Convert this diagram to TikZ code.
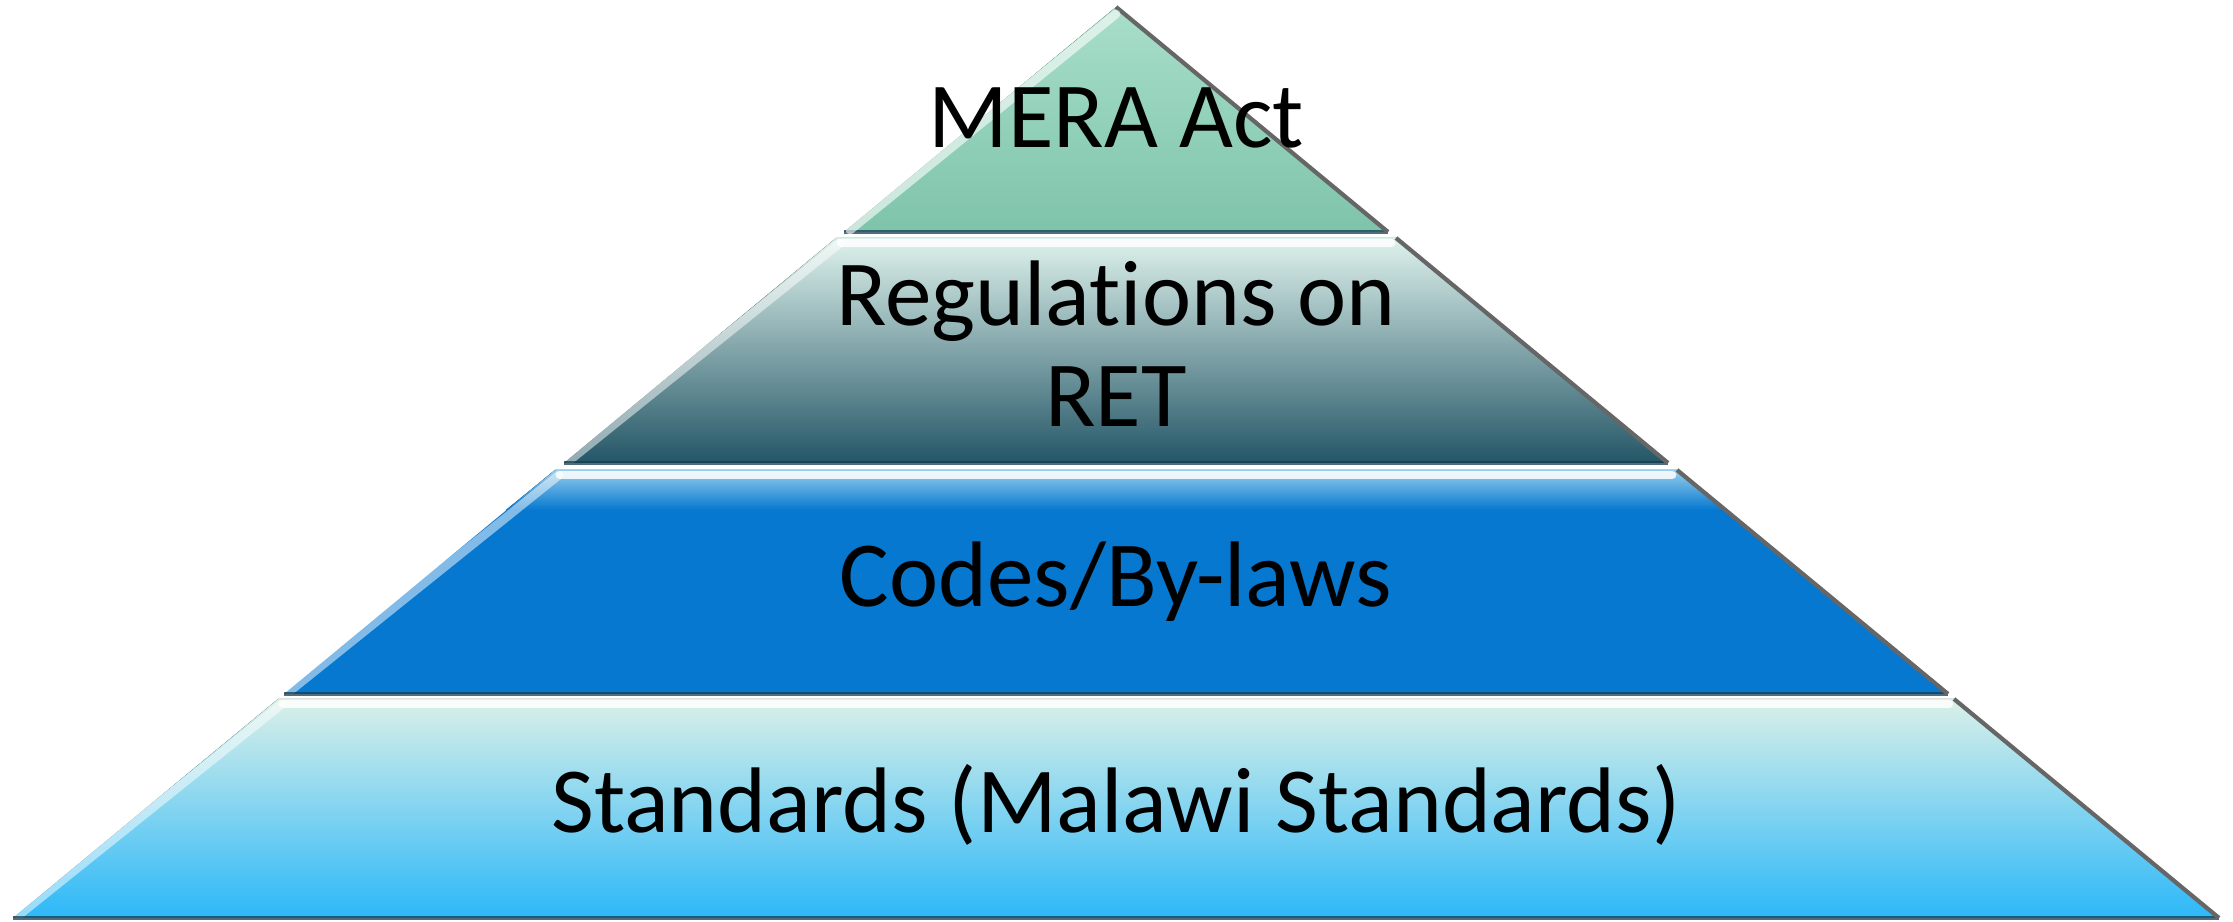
\documentclass[tikz,border=0pt]{standalone}
\usepackage{fontspec}
\setmainfont{Carlito}[Ligatures=NoCommon]

\definecolor{meratop}{RGB}{168,222,202}
\definecolor{merabot}{RGB}{126,196,170}
\definecolor{regtop}{RGB}{222,242,236}
\definecolor{regbot}{RGB}{36,86,102}
\definecolor{codesblue}{RGB}{6,120,208}
\definecolor{codestop}{RGB}{150,205,235}
\definecolor{stdtop}{RGB}{218,240,232}
\definecolor{stdbot}{RGB}{44,184,248}
\definecolor{edgedark}{RGB}{20,60,80}

\tikzset{
    glint/.style={white, line width=2.5pt, opacity=0.85, line cap=round},
    rim/.style={edgedark, line width=1.4pt, opacity=0.75},
    sidegrey/.style={gray!80!black, line width=1.2pt},
    tiertext/.style={font=\fontsize{26.5}{29}\selectfont, align=center, text=black, anchor=base}
}

\begin{document}
\begin{tikzpicture}
    \useasboundingbox (0,0) rectangle (22.33,9.22);

    % tier corners
    \coordinate (apex) at (11.16, 9.15);
    \coordinate (t1l) at (8.44, 6.90);
    \coordinate (t1r) at (13.88, 6.90);
    \coordinate (t2tl) at (8.36, 6.84);
    \coordinate (t2tr) at (13.96, 6.84);
    \coordinate (t2bl) at (5.64, 4.59);
    \coordinate (t2br) at (16.68, 4.59);
    \coordinate (t3tl) at (5.55, 4.52);
    \coordinate (t3tr) at (16.77, 4.52);
    \coordinate (t3bl) at (2.84, 2.28);
    \coordinate (t3br) at (19.48, 2.28);
    \coordinate (t4tl) at (2.78, 2.23);
    \coordinate (t4tr) at (19.54, 2.23);
    \coordinate (t4bl) at (0.13, 0.04);
    \coordinate (t4br) at (22.19, 0.04);

    % MERA Act
    \fill[top color=meratop, bottom color=merabot] (apex) -- (t1r) -- (t1l) -- cycle;
    \draw[rim] (t1l) -- (t1r);
    \draw[sidegrey] (apex) -- (t1r);
    \draw[glint, opacity=0.6] ([shift={(0.06,0.02)}]t1l) -- ([shift={(0,-0.07)}]apex);

    % Regulations on RET
    \fill[top color=regtop, bottom color=regbot] (t2tl) -- (t2tr) -- (t2br) -- (t2bl) -- cycle;
    \draw[glint] ([shift={(0.05,-0.05)}]t2tl) -- ([shift={(-0.05,-0.05)}]t2tr);
    \draw[glint, opacity=0.5] ([shift={(0.06,0.03)}]t2bl) -- ([shift={(0.04,-0.05)}]t2tl);
    \draw[rim] (t2bl) -- (t2br);
    \draw[sidegrey] (t2tr) -- (t2br);

    % Codes/By-laws
    \fill[codesblue] (t3tl) -- (t3tr) -- (t3br) -- (t3bl) -- cycle;
    \fill[top color=codestop, bottom color=codesblue] (t3tl) -- (t3tr) -- ([shift={(0.49,-0.4)}]t3tr) -- ([shift={(-0.49,-0.4)}]t3tl) -- cycle;
    \draw[glint] ([shift={(0.05,-0.05)}]t3tl) -- ([shift={(-0.05,-0.05)}]t3tr);
    \draw[glint, opacity=0.5] ([shift={(0.06,0.03)}]t3bl) -- ([shift={(0.04,-0.05)}]t3tl);
    \draw[rim] (t3bl) -- (t3br);
    \draw[sidegrey] (t3tr) -- (t3br);

    % Standards
    \fill[top color=stdtop, bottom color=stdbot] (t4tl) -- (t4tr) -- (t4br) -- (t4bl) -- cycle;
    \draw[glint] ([shift={(0.05,-0.05)}]t4tl) -- ([shift={(-0.05,-0.05)}]t4tr);
    \draw[glint, opacity=0.5] ([shift={(0.06,0.03)}]t4bl) -- ([shift={(0.04,-0.05)}]t4tl);
    \draw[rim] (t4bl) -- (t4br);
    \draw[sidegrey] (t4tr) -- (t4br);

    \node[tiertext] (mera) at (11.16, 7.74) {MERA Act};
    \node[tiertext] (regs) at (11.16, 4.95) {Regulations on\\RET};
    \node[tiertext] (codes) at (11.16, 3.15) {Codes/By-laws};
    \node[tiertext] (stds) at (11.16, 0.89) {Standards (Malawi Standards)};
\end{tikzpicture}
\end{document}
